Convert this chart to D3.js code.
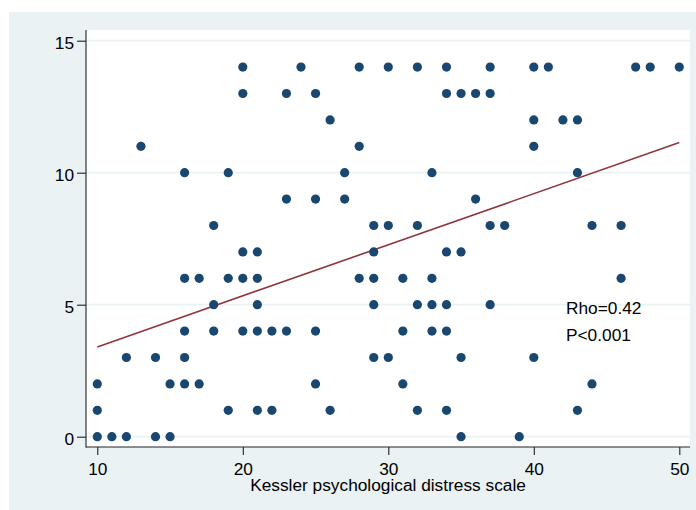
<!DOCTYPE html>
<html>
<head>
<meta charset="utf-8">
<script src="https://cdn.jsdelivr.net/npm/d3@7"></script>
<style>
  html, body { margin: 0; padding: 0; background: #ffffff; }
  svg { display: block; }
  text { font-family: "Liberation Sans", Arial, Helvetica, sans-serif; fill: #000; }
</style>
</head>
<body>
<svg id="chart" width="696" height="510"></svg>
<script>
// ---- data ----
// Kessler score (x) for each psychological outcome score (y), grouped by y row
const row0  = [10, 11, 12, 14, 15, 35, 39];
const row1  = [10, 19, 21, 22, 26, 32, 34, 43];
const row2  = [10, 15, 16, 17, 25, 31, 44];
const row3  = [12, 14, 16, 29, 30, 35, 40];
const row4  = [16, 18, 20, 21, 22, 23, 25, 31, 33, 34];
const row5  = [18, 21, 29, 32, 33, 34, 37];
const row6  = [16, 17, 19, 20, 21, 28, 29, 31, 33, 46];
const row7  = [20, 21, 29, 34, 35];
const row8  = [18, 29, 30, 32, 37, 38, 44, 46];
const row9  = [23, 25, 27, 36];
const row10 = [16, 19, 27, 33, 43];
const row11 = [13, 28, 40];
const row12 = [26, 40, 42, 43];
const row13 = [20, 23, 25, 34, 35, 36, 37];
const row14 = [20, 24, 28, 30, 32, 34, 37, 40, 41, 47, 48, 50];
const rows = [row0, row1, row2, row3, row4, row5, row6, row7,
              row8, row9, row10, row11, row12, row13, row14];

// fitted regression line endpoints
const fitX = [10, 50];
const fitY = [3.40, 11.14];

const xTicks = [10, 20, 30, 40, 50];
const yTicks = [0, 5, 10, 15];
const xTitle = "Kessler psychological distress scale";
const statLines = ["Rho=0.42", "P<0.001"];

// ---- build points ----
const points = [];
rows.forEach((xs, yv) => xs.forEach(xv => points.push({ x: xv, y: yv })));

// ---- layout ----
const svg = d3.select("#chart");
const plot = { left: 86, right: 690, top: 30, bottom: 447 };
const FS = 17.3;

const x = d3.scaleLinear().domain([10, 50]).range([97.3, 679.3]);
const y = d3.scaleLinear().domain([0, 15]).range([436.7, 40.7]);

// outer graph region
svg.append("rect").attr("x", 9).attr("y", 12).attr("width", 687).attr("height", 498)
  .attr("fill", "#EAF2F3");
// plot region
svg.append("rect").attr("x", plot.left).attr("y", plot.top)
  .attr("width", plot.right - plot.left).attr("height", plot.bottom - plot.top)
  .attr("fill", "#ffffff");

// gridlines
svg.append("g").selectAll("line").data(yTicks).join("line")
  .attr("x1", plot.left).attr("x2", plot.right)
  .attr("y1", d => y(d)).attr("y2", d => y(d))
  .attr("stroke", "#EAF2F3").attr("stroke-width", 1.8);

// regression line
svg.append("line")
  .attr("x1", x(fitX[0])).attr("y1", y(fitY[0]))
  .attr("x2", x(fitX[1])).attr("y2", y(fitY[1]))
  .attr("stroke", "#90353B").attr("stroke-width", 1.6);

// points
svg.append("g").selectAll("circle").data(points).join("circle")
  .attr("cx", d => x(d.x)).attr("cy", d => y(d.y)).attr("r", 4.6)
  .attr("fill", "#1A476F");

// axis lines (frame left & bottom)
svg.append("line").attr("x1", plot.left).attr("x2", plot.left)
  .attr("y1", plot.top).attr("y2", plot.bottom + 0.5)
  .attr("stroke", "#222").attr("stroke-width", 1.1);
svg.append("line").attr("x1", plot.left).attr("x2", plot.right)
  .attr("y1", plot.bottom).attr("y2", plot.bottom)
  .attr("stroke", "#222").attr("stroke-width", 1.1);

// y axis
const yAxis = svg.append("g").attr("transform", `translate(${plot.left},0)`)
  .call(d3.axisLeft(y).tickValues(yTicks).tickSize(9).tickPadding(3).tickFormat(d3.format("d")));
yAxis.select(".domain").remove();
yAxis.selectAll(".tick line").attr("stroke", "#222").attr("stroke-width", 1.1);
yAxis.selectAll(".tick text").attr("font-size", FS).attr("dy", "0.44em")
  .attr("font-family", "'Liberation Sans', Arial, sans-serif").attr("fill", "#000");

// x axis
const xAxis = svg.append("g").attr("transform", `translate(0,${plot.bottom})`)
  .call(d3.axisBottom(x).tickValues(xTicks).tickSize(8).tickPadding(3).tickFormat(d3.format("d")));
xAxis.select(".domain").remove();
xAxis.selectAll(".tick line").attr("stroke", "#222").attr("stroke-width", 1.1);
xAxis.selectAll(".tick text").attr("font-size", FS).attr("y", 28).attr("dy", 0)
  .attr("font-family", "'Liberation Sans', Arial, sans-serif").attr("fill", "#000");

// x title
svg.append("text").attr("x", (plot.left + plot.right) / 2).attr("y", 491)
  .attr("text-anchor", "middle").attr("font-size", FS).text(xTitle);

// annotation
svg.append("g").selectAll("text").data(statLines).join("text")
  .attr("x", 566).attr("y", (d, i) => 314 + i * 27)
  .attr("font-size", FS).text(d => d);
</script>
</body>
</html>
